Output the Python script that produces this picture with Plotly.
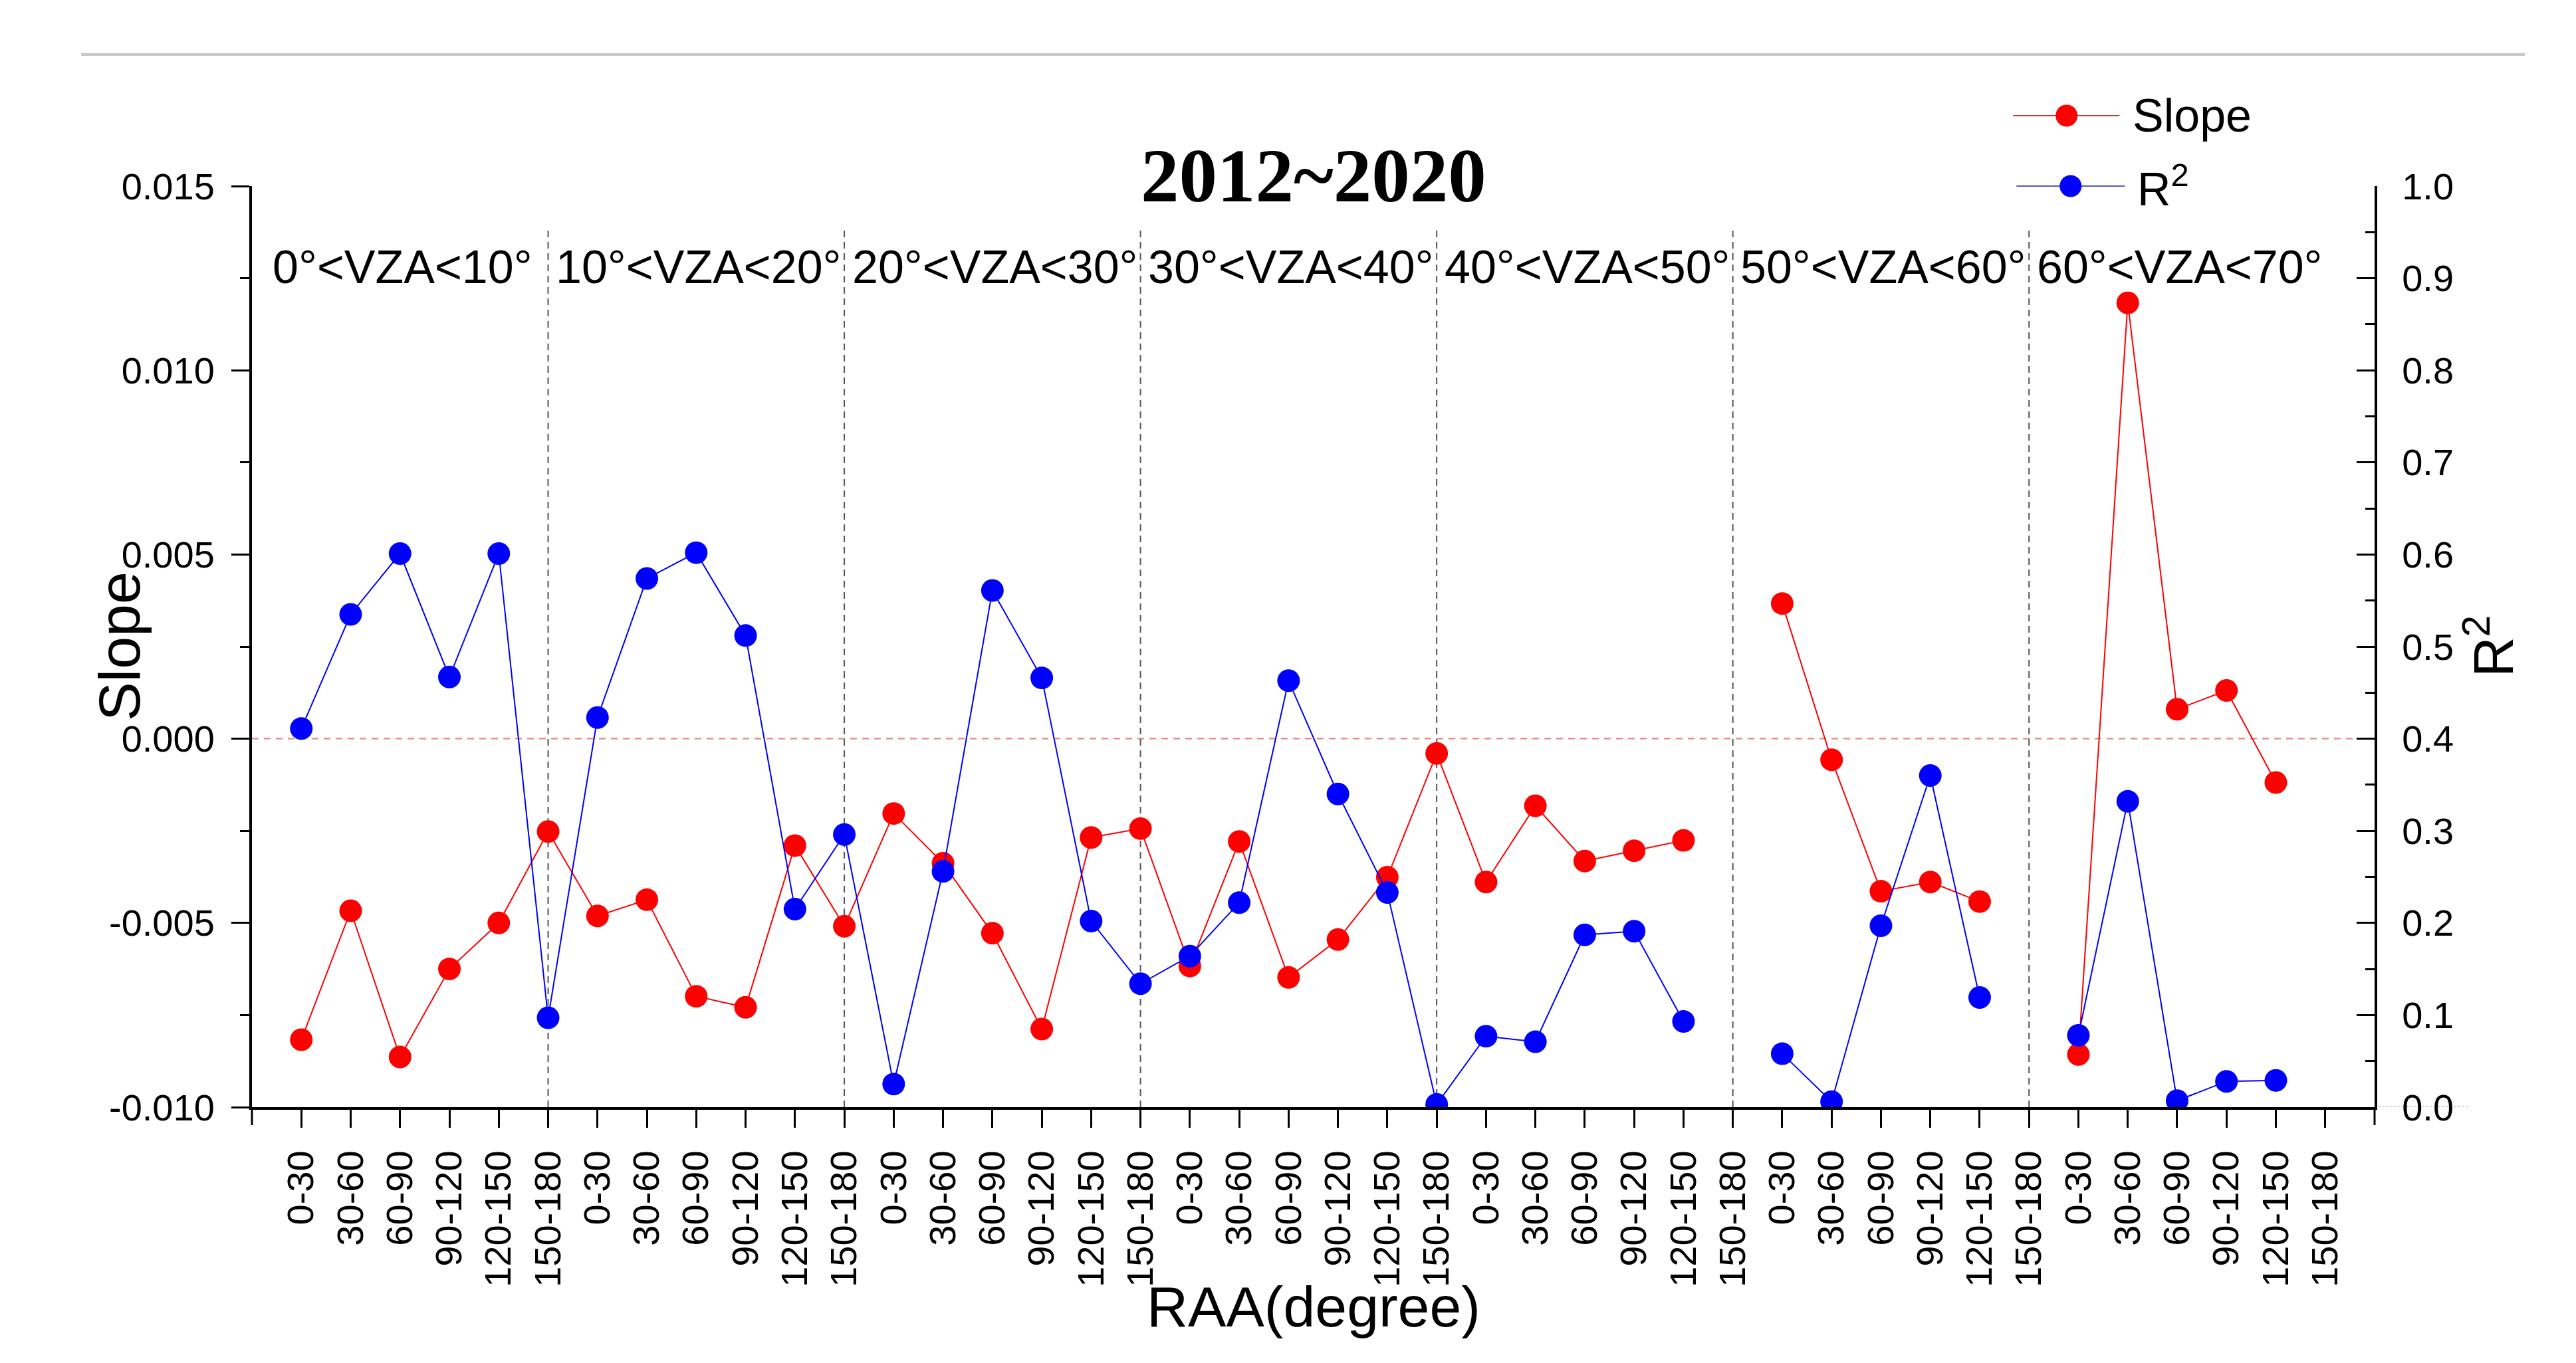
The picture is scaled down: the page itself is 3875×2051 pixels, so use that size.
import plotly.graph_objects as go

# VZA groups along the x axis, each split into RAA bins
vza_groups = ["0°<VZA<10°", "10°<VZA<20°", "20°<VZA<30°", "30°<VZA<40°",
              "40°<VZA<50°", "50°<VZA<60°", "60°<VZA<70°"]
raa_bins = ["0-30", "30-60", "60-90", "90-120", "120-150", "150-180"]

# Slope (left axis), one value per RAA bin, group after group; None = no data
slope = [
    -0.00817, -0.00467, -0.00864, -0.00625, -0.00500, -0.00252,
    -0.00481, -0.00437, -0.00699, -0.00729, -0.00290, -0.00509,
    -0.00203, -0.00338, -0.00528, -0.00788, -0.00268, -0.00244,
    -0.00617, -0.00279, -0.00648, -0.00545, -0.00376, -0.00040,
    -0.00389, -0.00182, -0.00332, -0.00304, -0.00276, None,
    0.00367, -0.00057, -0.00414, -0.00389, -0.00442, None,
    -0.00857, 0.01183, 0.00080, 0.00131, -0.00119, None,
]

# R2 (right axis)
r_squared = [
    0.411, 0.535, 0.601, 0.467, 0.601, 0.097,
    0.423, 0.574, 0.602, 0.512, 0.215, 0.296,
    0.025, 0.256, 0.561, 0.466, 0.202, 0.134,
    0.164, 0.222, 0.463, 0.340, 0.233, 0.003,
    0.077, 0.071, 0.187, 0.191, 0.093, None,
    0.058, 0.006, 0.197, 0.360, 0.119, None,
    0.078, 0.332, 0.007, 0.028, 0.029, None,
]

slope_ticks = [-0.010, -0.005, 0.000, 0.005, 0.010, 0.015]
slope_tick_text = ["-0.010", "-0.005", "0.000", "0.005", "0.010", "0.015"]
r2_ticks = [0.0, 0.1, 0.2, 0.3, 0.4, 0.5, 0.6, 0.7, 0.8, 0.9, 1.0]
r2_tick_text = ["0.0", "0.1", "0.2", "0.3", "0.4", "0.5", "0.6", "0.7", "0.8", "0.9", "1.0"]

# one x slot per (group, bin)
nb = len(raa_bins)
x_pos, x_labels = [], []
for g in range(len(vza_groups)):
    for b, raa in enumerate(raa_bins):
        x_pos.append(g * nb + b)
        x_labels.append(raa)
n = len(x_pos)

SANS = "Liberation Sans, Arial, sans-serif"
RED = "#ff0000"
BLUE = "#0000ff"

fig = go.Figure()

fig.add_trace(go.Scatter(
    x=x_pos, y=slope, name="Slope", mode="lines+markers",
    line=dict(color=RED, width=2), marker=dict(color=RED, size=34),
    connectgaps=False, showlegend=False
))
fig.add_trace(go.Scatter(
    x=x_pos, y=r_squared, name="R²", mode="lines+markers", yaxis="y2",
    line=dict(color=BLUE, width=2), marker=dict(color=BLUE, size=34),
    connectgaps=False, showlegend=False
))

shapes = []
# dashed separators between VZA groups
for g in range(len(vza_groups) - 1):
    xs = g * nb + nb - 1
    shapes.append(dict(type="line", xref="x", yref="y", x0=xs, x1=xs,
                       y0=-0.010, y1=0.0138,
                       line=dict(color="#555555", width=2, dash="10px,7px"), layer="below"))
# zero line for slope
shapes.append(dict(type="line", xref="paper", yref="y", x0=0, x1=1, y0=0, y1=0,
                   line=dict(color="rgba(225,110,110,0.9)", width=2, dash="10px,8px"), layer="below"))
# dotted line behind 0.0 on right axis
shapes.append(dict(type="line", xref="paper", yref="y2", x0=1.0, x1=1.0445, y0=0, y1=0,
                   line=dict(color="#999999", width=2, dash="dot"), layer="below"))
# gray rule at top of page
shapes.append(dict(type="line", xref="paper", yref="paper", x0=-0.0805, x1=1.0708,
                   y0=1.1429, y1=1.1429, line=dict(color="#c8c8c8", width=4)))
# tick marks under the two bottom corners
for cx in (0, 1):
    shapes.append(dict(type="line", xref="paper", yref="paper", x0=cx, x1=cx,
                       y0=0, y1=-0.0195, line=dict(color="black", width=3)))

# custom legend (line + marker sample)
legend_rows = [("Slope", RED, "#cc3333", 1.0765, 0.8297, 0.8798, 0.8549, 0.8855),
               ("R<sup>2</sup>", BLUE, "#5555cc", 1.0, 0.8313, 0.8823, 0.8568, 0.8877)]
annotations = []
for label, col, lcol, ly, lx0, lx1, mx, tx in legend_rows:
    shapes.append(dict(type="line", xref="paper", yref="paper", x0=lx0, x1=lx1, y0=ly, y1=ly,
                       line=dict(color=lcol, width=2)))
    shapes.append(dict(type="circle", xref="paper", yref="paper", xsizemode="pixel",
                       ysizemode="pixel", xanchor=mx, yanchor=ly, x0=-16.5, x1=16.5,
                       y0=-16.5, y1=16.5, fillcolor=col, line=dict(width=0)))
    annotations.append(dict(text=label, xref="paper", yref="paper", x=tx, y=ly,
                            xanchor="left", yanchor="middle", showarrow=False,
                            font=dict(family=SANS, size=70, color="black")))

# group labels
for g, name in enumerate(vza_groups):
    annotations.append(dict(text=name, xref="x", yref="y", x=g * nb + 2.05, y=0.0128,
                            xanchor="center", yanchor="middle", showarrow=False,
                            font=dict(family=SANS, size=70, color="black")))

# title and axis titles
annotations.append(dict(text="<b>2012~2020</b>", xref="paper", yref="paper", x=0.5, y=1.0115,
                        xanchor="center", yanchor="middle", showarrow=False,
                        font=dict(family="Liberation Serif, Times New Roman, serif", size=115,
                                  color="black")))
annotations.append(dict(text="Slope", xref="paper", yref="paper", x=-0.0626, y=0.5,
                        xanchor="center", yanchor="middle", textangle=-90, showarrow=False,
                        font=dict(family=SANS, size=88, color="black")))
annotations.append(dict(text="R<sup>2</sup>", xref="paper", yref="paper", x=1.0542, y=0.5,
                        xanchor="center", yanchor="middle", textangle=-90, showarrow=False,
                        font=dict(family=SANS, size=84, color="black")))
annotations.append(dict(text="RAA(degree)", xref="paper", yref="paper", x=0.5, y=-0.2165,
                        xanchor="center", yanchor="middle", showarrow=False,
                        font=dict(family=SANS, size=86, color="black")))

# the page body adds an 8px offset, so the figure is 16px smaller and the
# left/top margins are 8px smaller
fig.update_layout(
    width=3859, height=2035,
    margin=dict(l=371, r=295, t=272, b=377),
    paper_bgcolor="white", plot_bgcolor="white",
    showlegend=False,
    font=dict(family=SANS, size=56, color="black"),
    xaxis=dict(
        range=[-1, n], showgrid=False, zeroline=False,
        showline=True, linecolor="black", linewidth=4,
        tickmode="array", tickvals=x_pos, ticktext=x_labels,
        ticks="outside", ticklen=27, tickwidth=3, tickcolor="black",
        tickangle=-90, tickfont=dict(family=SANS, size=56), ticklabelstandoff=12,
    ),
    yaxis=dict(
        range=[-0.010, 0.015], showgrid=False, zeroline=False,
        showline=True, linecolor="black", linewidth=4,
        tickmode="array", tickvals=slope_ticks, ticktext=slope_tick_text,
        ticks="outside", ticklen=27, tickwidth=3, tickcolor="black",
        tickfont=dict(family=SANS, size=56), ticklabelstandoff=14,
        minor=dict(tick0=-0.010, dtick=0.0025, ticks="outside", ticklen=14,
                   tickwidth=3, tickcolor="black"),
    ),
    yaxis2=dict(
        range=[0, 1], overlaying="y", side="right", showgrid=False, zeroline=False,
        showline=True, linecolor="black", linewidth=4,
        tickmode="array", tickvals=r2_ticks, ticktext=r2_tick_text,
        ticks="inside", ticklen=27, tickwidth=3, tickcolor="black",
        tickfont=dict(family=SANS, size=56), ticklabelstandoff=26,
        minor=dict(tick0=0, dtick=0.05, ticks="inside", ticklen=14,
                   tickwidth=3, tickcolor="black"),
    ),
    shapes=shapes,
    annotations=annotations,
)

fig.write_html("out.html")
